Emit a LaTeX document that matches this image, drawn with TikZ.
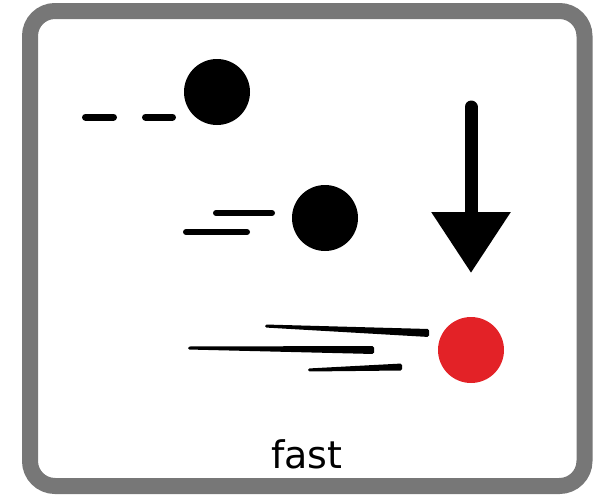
\documentclass[tikz,border=0pt]{standalone}
\usepackage{fontspec}
\setmainfont{DejaVu Sans}
\usetikzlibrary{arrows.meta}
\definecolor{framegray}{RGB}{119,119,119}
\definecolor{ballred}{RGB}{227,34,39}

\begin{document}
\begin{tikzpicture}[x=1pt,y=-1pt,
  ball/.style={circle,fill=#1,minimum size=66pt,inner sep=0pt},
  trail/.style={line width=7pt,line cap=round},
  streak/.style={fill=black,rounded corners=1.5pt}]
\useasboundingbox (0,0) rectangle (608,496);
% frame
\draw[framegray,line width=16pt,rounded corners=25pt] (30,11) rectangle (584.5,486);
% balls
\node[ball=black] (slow) at (217,92) {};
\node[ball=black] (medium) at (325,218) {};
\node[ball=ballred] (fastball) at (471,350) {};
% trails of the slow ball
\draw[trail] (85.5,117) -- (113.5,117);
\draw[trail] (145.5,117) -- (172.5,117);
% trails of the medium ball
\draw[trail,line width=6pt] (216,213) -- (272,213);
\draw[trail,line width=6pt] (186,232) -- (247,232);
% trails of the fast ball
\fill[streak] (265,324.5) -- (429,329) -- (429,337) -- (265,327.5) -- cycle;
\fill[streak] (188,346.5) -- (374,346) -- (374,354) -- (188,349.5) -- cycle;
\fill[streak] (308,368.5) -- (402,363.5) -- (402,370.5) -- (308,371.5) -- cycle;
% falling arrow
\coordinate (top) at (471,107);
\coordinate (tip) at (471,273);
\draw[line width=13pt,line cap=round,-{Triangle[width=76pt,length=61pt]}] (top) -- (tip);
% label
\node[anchor=base,font=\fontsize{38}{40}\selectfont,inner sep=0pt] (label) at (307,468) {fast};
\end{tikzpicture}
\end{document}
